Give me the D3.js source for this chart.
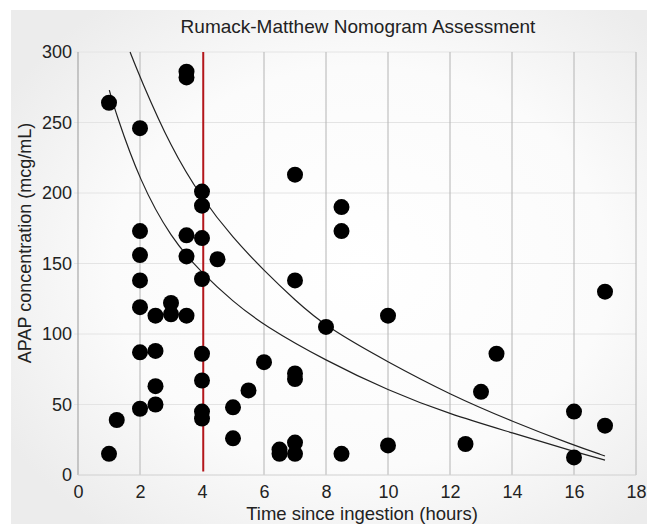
<!DOCTYPE html>
<html>
<head>
<meta charset="utf-8">
<script src="https://cdn.jsdelivr.net/npm/d3@7"></script>
<style>
  html, body { margin: 0; padding: 0; background: #ffffff; }
  svg { display: block; font-family: "Liberation Sans", Arial, sans-serif; }
</style>
</head>
<body>
<div id="chart"></div>
<script>
// Patient samples: hours since ingestion and APAP level
const sampleHours = [
  1, 2, 3.5, 3.5, 4, 4, 2, 2, 2, 2, 3.5, 4, 3.5, 4.5, 4, 2.5, 3, 3, 3.5,
  2, 2.5, 4, 4, 2.5, 2.5, 2, 4, 4, 1.25, 1,
  7, 8.5, 8.5, 7, 8, 6, 7, 7, 5.5, 5, 5, 6.5, 6.5, 7, 7, 8.5,
  10, 10, 12.5, 13, 13.5, 17, 16, 16, 17
];
const sampleLevels = [
  264, 246, 286, 282, 201, 191, 173, 156, 138, 119, 170, 168, 155, 153, 139, 113, 122, 114, 113,
  87, 88, 86, 67, 63, 50, 47, 45, 40, 39, 15,
  213, 190, 173, 138, 105, 80, 72, 68, 60, 48, 26, 18, 15, 23, 15, 15,
  113, 21, 22, 59, 86, 130, 45, 12.5, 35
];

// Nomogram lines
const upperHours = [1.68, 2, 3, 4, 5, 6, 7, 8, 10, 12, 14, 16, 17];
const upperLevels = [300, 282, 232, 196, 168, 145, 124, 105, 80, 57, 38, 21, 13.5];
const lowerHours = [1.01, 1.2, 2, 3, 4, 5, 6, 8, 10, 12, 14, 16, 17];
const lowerLevels = [273, 258, 208, 168, 143, 123, 106, 81, 60, 43, 30, 16.5, 10.6];

const markerHour = 4.04;
const xTicks = [0, 2, 4, 6, 8, 10, 12, 14, 16, 18];
const yTicks = [0, 50, 100, 150, 200, 250, 300];

const W = 647, H = 524;
const svg = d3.select('#chart').append('svg')
  .attr('width', W)
  .attr('height', H);

// card background
const defs = svg.append('defs');
const grad = defs.append('radialGradient')
  .attr('id', 'cardGrad')
  .attr('cx', '55%').attr('cy', '50%').attr('r', '65%');
grad.append('stop').attr('offset', '0%').attr('stop-color', '#ffffff');
grad.append('stop').attr('offset', '60%').attr('stop-color', '#fbfbfb');
grad.append('stop').attr('offset', '100%').attr('stop-color', '#ececec');

svg.append('rect')
  .attr('x', 11).attr('y', 10)
  .attr('width', W - 11).attr('height', H - 10)
  .attr('fill', 'url(#cardGrad)');

const x = d3.scaleLinear().domain([0, 18]).range([78, 636]);
const y = d3.scaleLinear().domain([0, 300]).range([475, 52]);

// horizontal grid
svg.append('g')
  .selectAll('line')
  .data(yTicks.filter(d => d > 0))
  .join('line')
  .attr('x1', x(0) - 4).attr('x2', x(18))
  .attr('y1', d => y(d)).attr('y2', d => y(d))
  .attr('stroke', '#e4e4e4')
  .attr('stroke-width', 1);

// vertical grid
svg.append('g')
  .selectAll('line')
  .data(xTicks.filter(d => d > 0 && d !== 4))
  .join('line')
  .attr('x1', d => x(d)).attr('x2', d => x(d))
  .attr('y1', y(300)).attr('y2', y(0))
  .attr('stroke', '#b4b4b4')
  .attr('stroke-width', 1);

// axis lines
svg.append('line')
  .attr('x1', x(0)).attr('x2', x(0))
  .attr('y1', y(300)).attr('y2', y(0))
  .attr('stroke', '#999').attr('stroke-width', 1);
svg.append('line')
  .attr('x1', x(0)).attr('x2', x(18))
  .attr('y1', y(0)).attr('y2', y(0))
  .attr('stroke', '#d0d0d0').attr('stroke-width', 1);

// tick labels
const xAxis = d3.axisBottom(x).tickValues(xTicks).tickSize(0).tickPadding(10);
const gx = svg.append('g').attr('transform', `translate(0,${y(0)})`).call(xAxis);
gx.select('.domain').remove();
gx.selectAll('text').attr('font-size', 18).attr('fill', '#222').attr('font-family', null);

const yAxis = d3.axisLeft(y).tickValues(yTicks).tickSize(0).tickPadding(6);
const gy = svg.append('g').attr('transform', `translate(${x(0)},0)`).call(yAxis);
gy.select('.domain').remove();
gy.selectAll('text').attr('font-size', 18).attr('fill', '#222').attr('font-family', null);

// nomogram curves
const line = d3.line()
  .x(d => x(d[0]))
  .y(d => y(d[1]))
  .curve(d3.curveBasis);

svg.append('path')
  .datum(d3.zip(upperHours, upperLevels))
  .attr('d', line)
  .attr('fill', 'none')
  .attr('stroke', '#222')
  .attr('stroke-width', 1.2);

svg.append('path')
  .datum(d3.zip(lowerHours, lowerLevels))
  .attr('d', line)
  .attr('fill', 'none')
  .attr('stroke', '#222')
  .attr('stroke-width', 1.2);

// 4-hour marker
svg.append('line')
  .attr('x1', x(markerHour)).attr('x2', x(markerHour))
  .attr('y1', y(300)).attr('y2', y(2.5))
  .attr('stroke', '#b3161b')
  .attr('stroke-width', 2);

// points
svg.append('g')
  .selectAll('circle')
  .data(d3.zip(sampleHours, sampleLevels))
  .join('circle')
  .attr('cx', d => x(d[0]))
  .attr('cy', d => y(d[1]))
  .attr('r', 8)
  .attr('fill', '#000');

// titles
svg.append('text')
  .attr('x', 358).attr('y', 33)
  .attr('text-anchor', 'middle')
  .attr('font-size', 19)
  .attr('fill', '#222')
  .text('Rumack-Matthew Nomogram Assessment');

svg.append('text')
  .attr('x', 362).attr('y', 520)
  .attr('text-anchor', 'middle')
  .attr('font-size', 18.5)
  .attr('fill', '#222')
  .text('Time since ingestion (hours)');

svg.append('text')
  .attr('transform', 'translate(31,243) rotate(-90)')
  .attr('text-anchor', 'middle')
  .attr('font-size', 18)
  .attr('fill', '#222')
  .text('APAP concentration (mcg/mL)');
</script>
</body>
</html>
